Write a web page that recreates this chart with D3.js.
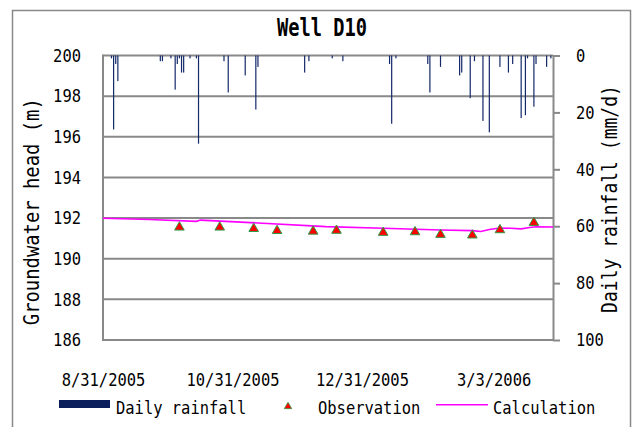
<!DOCTYPE html>
<html>
<head>
<meta charset="utf-8">
<script src="https://cdn.jsdelivr.net/npm/d3@7"></script>
<style>
  body { margin: 0; background: #fff; }
  svg { display: block; }
  text { font-family: 'DejaVu Sans Mono', monospace; fill: #000; }
</style>
</head>
<body>
<svg id="chart"></svg>
<script>
'use strict';

// daily rainfall (mm/d)
const rainDates = ['2005-09-04', '2005-09-05', '2005-09-06', '2005-09-07', '2005-09-27', '2005-09-28',
    '2005-10-02', '2005-10-04', '2005-10-05', '2005-10-06', '2005-10-07', '2005-10-08', '2005-10-11',
    '2005-10-14', '2005-10-15', '2005-10-27', '2005-10-29', '2005-11-06', '2005-11-11', '2005-11-12',
    '2005-12-04', '2005-12-06', '2005-12-17', '2005-12-22', '2006-01-13', '2006-01-14', '2006-01-16',
    '2006-01-31', '2006-02-01', '2006-02-06', '2006-02-15', '2006-02-16', '2006-02-20', '2006-02-22',
    '2006-02-26', '2006-03-01', '2006-03-06', '2006-03-10', '2006-03-12', '2006-03-16', '2006-03-18',
    '2006-03-19', '2006-03-22', '2006-03-23', '2006-03-28', '2006-03-30'];
const rainMm = [1, 26, 3, 9, 2, 2,
    1, 12, 3, 1, 6, 6, 1,
    1, 31, 2, 13, 7, 19, 4,
    6, 2, 1, 2, 3, 24, 1,
    3, 13, 4, 7, 6, 15, 2,
    23, 27, 4, 6, 3, 22, 21,
    1, 18, 3, 4, 1];

// observed groundwater head (m)
const obsDates = ['2005-10-06', '2005-10-25', '2005-11-10', '2005-11-21', '2005-12-08', '2005-12-19',
    '2006-01-10', '2006-01-25', '2006-02-06', '2006-02-21', '2006-03-06', '2006-03-22'];
const obsHead = [191.61, 191.61, 191.54, 191.44, 191.41, 191.45, 191.35, 191.38, 191.25, 191.22, 191.48, 191.84];

// calculated head (m)
const calcDates = ['2005-08-31', '2005-09-22', '2005-10-14', '2005-10-16', '2005-11-12', '2005-12-14',
    '2006-01-10', '2006-02-06', '2006-02-21', '2006-02-25', '2006-03-01', '2006-03-06', '2006-03-11',
    '2006-03-16', '2006-03-20', '2006-03-23', '2006-03-31'];
const calcHead = [191.99, 191.93, 191.84, 191.90, 191.76, 191.58,
    191.50, 191.41, 191.38, 191.34, 191.44, 191.51, 191.50,
    191.47, 191.54, 191.57, 191.56];

const headTicks = [186, 188, 190, 192, 194, 196, 198, 200];
const rainTicks = [0, 20, 40, 60, 80, 100];
const dateTicks = ['2005-08-31', '2005-10-31', '2005-12-31', '2006-03-03'];
const dateLabels = ['8/31/2005', '10/31/2005', '12/31/2005', '3/3/2006'];

const W = 632, H = 427;
const plotLeft = 103, plotRight = 553, plotTop = 55.5, plotBottom = 340;
const gridColor = '#898989';
const navy = '#14296a';
const charW = 9.3;

const parse = d3.timeParse('%Y-%m-%d');

const x = d3.scaleTime()
    .domain([parse('2005-08-31'), parse('2006-03-31')])
    .range([plotLeft, plotRight]);
const yHead = d3.scaleLinear().domain([186, 200]).range([plotBottom, plotTop]);
const yRain = d3.scaleLinear().domain([0, 100]).range([plotTop, plotBottom]);

const svg = d3.select('#chart').attr('width', W).attr('height', H);

// squeeze text to a fixed advance per character (narrow half-width look)
function fit(text, perChar) {
    text.each(function () {
        const t = d3.select(this);
        t.attr('textLength', t.text().length * perChar).attr('lengthAdjust', 'spacingAndGlyphs');
    });
}

// outer border
svg.append('rect')
    .attr('x', 12.5).attr('y', 10.5).attr('width', 618).attr('height', 425)
    .attr('fill', 'none').attr('stroke', gridColor).attr('stroke-width', 1.5);

// title
svg.append('text')
    .attr('x', 322).attr('y', 36)
    .attr('text-anchor', 'middle')
    .style('font-size', '25px').style('font-weight', 'bold')
    .text('Well D10')
    .call(fit, 11.25);

// gridlines
svg.append('g').selectAll('line')
    .data(headTicks)
    .enter().append('line')
    .attr('x1', plotLeft).attr('x2', plotRight)
    .attr('y1', d => yHead(d)).attr('y2', d => yHead(d))
    .attr('stroke', gridColor).attr('stroke-width', 2);

// rainfall bars hanging from the top
svg.append('g').selectAll('rect')
    .data(rainDates.map((d, i) => ({ date: parse(d), mm: rainMm[i] })))
    .enter().append('rect')
    .attr('x', d => x(d.date) - 0.6)
    .attr('y', yRain(0))
    .attr('width', 1.2)
    .attr('height', d => yRain(d.mm) - yRain(0))
    .attr('fill', navy);

// plot border (left)
svg.append('line')
    .attr('x1', plotLeft).attr('x2', plotLeft).attr('y1', plotTop - 1).attr('y2', plotBottom + 1)
    .attr('stroke', gridColor).attr('stroke-width', 2);

// left axis
const axL = svg.append('g')
    .attr('transform', 'translate(' + plotLeft + ',0)')
    .call(d3.axisLeft(yHead).tickValues(headTicks).tickSize(0).tickPadding(22));
axL.select('.domain').remove();
axL.selectAll('text').style('font-size', '18px').call(fit, charW);

// right axis
const axR = svg.append('g')
    .attr('transform', 'translate(' + plotRight + ',0)')
    .call(d3.axisRight(yRain).tickValues(rainTicks).tickSizeInner(7).tickSizeOuter(0).tickPadding(16));
axR.select('.domain').attr('stroke', gridColor).attr('stroke-width', 2);
axR.selectAll('.tick line').attr('stroke', gridColor).attr('stroke-width', 2);
axR.selectAll('text').style('font-size', '18px').call(fit, charW);

// bottom date labels
const axB = svg.append('g')
    .attr('transform', 'translate(0,' + plotBottom + ')')
    .call(d3.axisBottom(x).tickValues(dateTicks.map(parse)).tickSize(0)
        .tickFormat((d, i) => dateLabels[i]));
axB.select('.domain').remove();
axB.selectAll('text')
    .attr('y', 45.5).attr('dy', null)
    .style('font-size', '18px')
    .call(fit, charW);

// calculation line
svg.append('path')
    .datum(calcDates.map((d, i) => [parse(d), calcHead[i]]))
    .attr('fill', 'none')
    .attr('stroke', '#ff00ff')
    .attr('stroke-width', 1.6)
    .attr('d', d3.line().x(d => x(d[0])).y(d => yHead(d[1])));

// observation markers
const tri = d3.symbol().type(d3.symbolTriangle).size(40);
svg.append('g').selectAll('path')
    .data(obsDates.map((d, i) => [parse(d), obsHead[i]]))
    .enter().append('path')
    .attr('d', tri)
    .attr('transform', d => 'translate(' + x(d[0]) + ',' + (yHead(d[1]) + 1.3) + ')')
    .attr('fill', '#ff0000')
    .attr('stroke', '#2f9a48')
    .attr('stroke-width', 1);

// axis titles
svg.append('text')
    .attr('transform', 'translate(38.5,211.7) rotate(-90)')
    .attr('text-anchor', 'middle')
    .style('font-size', '21px')
    .text('Groundwater head (m)')
    .call(fit, 11.35);

svg.append('text')
    .attr('transform', 'translate(617,199) rotate(-90)')
    .attr('text-anchor', 'middle')
    .style('font-size', '21px')
    .text('Daily rainfall (mm/d)')
    .call(fit, 10.85);

// legend
const lg = svg.append('g');
lg.append('rect').attr('x', 59).attr('y', 400).attr('width', 51).attr('height', 8).attr('fill', '#0a1f5c');
lg.append('text').attr('x', 116).attr('y', 413.5).style('font-size', '18px').text('Daily rainfall').call(fit, charW);
lg.append('path')
    .attr('d', d3.symbol().type(d3.symbolTriangle).size(24))
    .attr('transform', 'translate(288,406.5)')
    .attr('fill', '#ff0000').attr('stroke', '#2f9a48').attr('stroke-width', 0.8);
lg.append('text').attr('x', 318).attr('y', 413.5).style('font-size', '18px').text('Observation').call(fit, charW);
lg.append('line').attr('x1', 436).attr('x2', 488).attr('y1', 404.7).attr('y2', 404.7)
    .attr('stroke', '#ff00ff').attr('stroke-width', 1.6);
lg.append('text').attr('x', 493).attr('y', 413.5).style('font-size', '18px').text('Calculation').call(fit, charW);
</script>
</body>
</html>
